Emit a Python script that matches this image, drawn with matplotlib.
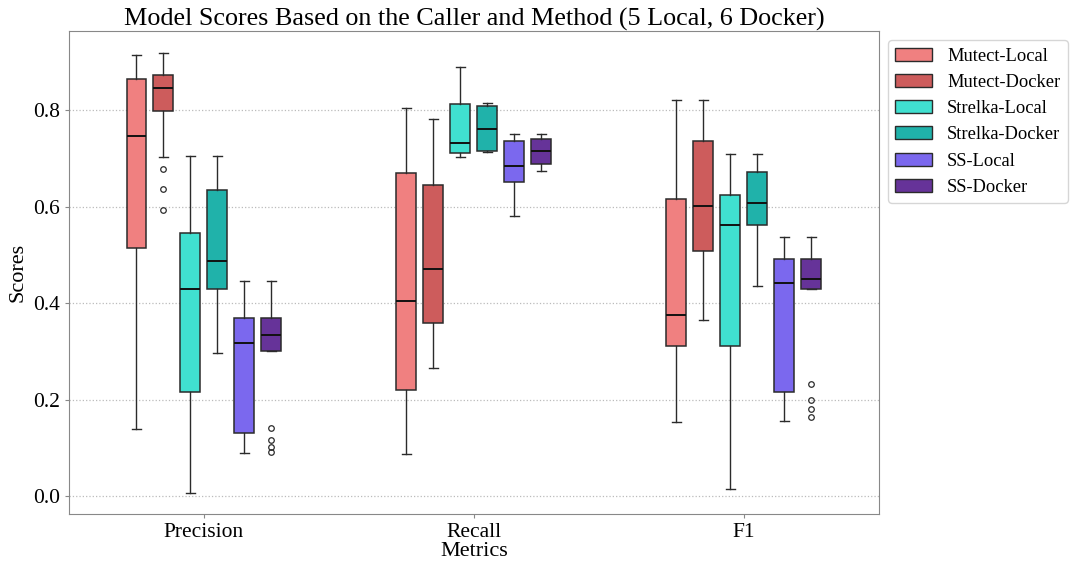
import matplotlib
matplotlib.use("Agg")
import matplotlib.pyplot as plt
from matplotlib.patches import Patch

plt.rcParams['font.family'] = ['Liberation Serif', 'DejaVu Serif']

metrics = ["Precision", "Recall", "F1"]
groups = ["Mutect-Local", "Mutect-Docker", "Strelka-Local", "Strelka-Docker", "SS-Local", "SS-Docker"]
colors = ["#F08080", "#CD5C5C", "#40E0D0", "#20B2AA", "#7B68EE", "#663399"]

# stats per metric, per group: [whislo, q1, med, q3, whishi]
precision_stats = [
    [0.140, 0.515, 0.747, 0.864, 0.915],
    [0.703, 0.799, 0.845, 0.873, 0.919],
    [0.008, 0.216, 0.429, 0.545, 0.705],
    [0.298, 0.429, 0.487, 0.634, 0.705],
    [0.089, 0.132, 0.318, 0.370, 0.446],
    [0.302, 0.302, 0.334, 0.370, 0.446],
]
recall_stats = [
    [0.088, 0.220, 0.405, 0.669, 0.804],
    [0.265, 0.359, 0.472, 0.645, 0.781],
    [0.702, 0.712, 0.733, 0.813, 0.889],
    [0.713, 0.715, 0.762, 0.808, 0.814],
    [0.580, 0.652, 0.684, 0.736, 0.750],
    [0.674, 0.689, 0.715, 0.740, 0.750],
]
f1_stats = [
    [0.155, 0.312, 0.375, 0.617, 0.821],
    [0.366, 0.508, 0.601, 0.736, 0.822],
    [0.016, 0.311, 0.562, 0.624, 0.709],
    [0.436, 0.562, 0.607, 0.672, 0.709],
    [0.157, 0.216, 0.441, 0.491, 0.537],
    [0.430, 0.430, 0.451, 0.491, 0.537],
]
precision_fliers = [[], [0.679, 0.636, 0.593], [], [], [], [0.141, 0.117, 0.103, 0.092]]
recall_fliers = [[], [], [], [], [], []]
f1_fliers = [[], [], [], [], [], [0.233, 0.200, 0.181, 0.165]]

all_stats = [precision_stats, recall_stats, f1_stats]
all_fliers = [precision_fliers, recall_fliers, f1_fliers]

fig = plt.figure(figsize=(10.75, 5.63), dpi=100)
ax = fig.add_axes([0.0642, 0.0865, 0.7532, 0.8585])

offsets = [-0.25, -0.15, -0.05, 0.05, 0.15, 0.25]
bw = 0.074
edge = "#2b2b2b"
for mi, (stats_m, fl_m) in enumerate(zip(all_stats, all_fliers)):
    for gi in range(len(groups)):
        lo, q1, med, q3, hi = stats_m[gi]
        st = dict(whislo=lo, q1=q1, med=med, q3=q3, whishi=hi, fliers=fl_m[gi])
        ax.bxp([st], positions=[mi + offsets[gi]], widths=bw, capwidths=bw * 0.45,
               patch_artist=True, manage_ticks=False,
               boxprops=dict(facecolor=colors[gi], edgecolor=edge, linewidth=1.1),
               medianprops=dict(color="#111111", linewidth=1.4),
               whiskerprops=dict(color=edge, linewidth=1.0),
               capprops=dict(color=edge, linewidth=1.0),
               flierprops=dict(marker='o', markersize=4, markerfacecolor='none',
                               markeredgecolor=edge, markeredgewidth=0.9))

ax.set_xlim(-0.5, 2.5)
ax.set_ylim(-0.037, 0.964)
ax.set_xticks(range(len(metrics)))
ax.set_xticklabels(metrics, fontsize=15.5)
ax.set_yticks([0.0, 0.2, 0.4, 0.6, 0.8])
ax.set_yticklabels(["0.0", "0.2", "0.4", "0.6", "0.8"], fontsize=15.5)
ax.yaxis.grid(True, linestyle=':', color='#bbbbbb', linewidth=0.9)
ax.set_axisbelow(True)
for s in ax.spines.values():
    s.set_color('#888888')
ax.tick_params(colors='#888888', labelcolor='black', length=3)

ax.set_xlabel("Metrics", fontsize=16, labelpad=0)
ax.set_ylabel("Scores", fontsize=16, labelpad=4)
ax.set_title("Model Scores Based on the Caller and Method (5 Local, 6 Docker)", fontsize=18.8, pad=4)

handles = [Patch(facecolor=c, edgecolor=edge, linewidth=1.0, label=g) for g, c in zip(groups, colors)]
ax.legend(handles=handles, loc='upper left', bbox_to_anchor=(1.0, 1.0), fontsize=13.3,
          frameon=True, edgecolor='#cccccc', fancybox=True)

fig.savefig("out.png", dpi=100)
